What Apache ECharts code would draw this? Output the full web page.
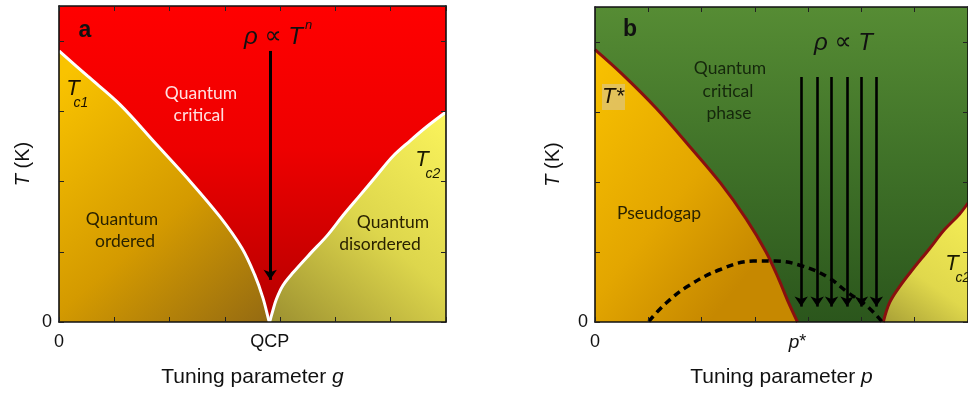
<!DOCTYPE html>
<html>
<head>
<meta charset="utf-8">
<script src="https://cdn.jsdelivr.net/npm/echarts@6/dist/echarts.min.js"></script>
<style>
html,body{margin:0;padding:0;background:#fff;}
#c{width:968px;height:393px;}
</style>
</head>
<body>
<div id="c"></div>
<script>
// ---------- Data ----------
// Panel a: phase boundaries (tuning parameter g vs T)
const tc1G = [0, 0.52, 1.10, 1.74, 2.33, 2.91, 3.31, 3.54, 3.69, 3.80, 3.81];
const tc1T = [3.86, 3.50, 3.10, 2.55, 2.04, 1.50, 1.05, 0.67, 0.34, 0.01, 0];
const tc2G = [3.81, 3.86, 3.93, 4.05, 4.23, 4.54, 4.85, 5.14, 5.44, 5.75, 6.04, 6.35, 6.65, 7.0];
const tc2T = [0, 0.14, 0.32, 0.52, 0.70, 0.97, 1.23, 1.52, 1.80, 2.09, 2.36, 2.58, 2.78, 2.99];
const qcpG = 3.81;
const arrowAG = [3.82];
const arrowATop = 3.86;
const arrowAEnd = 0.6;

// Panel b: pseudogap T*, superconducting dome, Tc2 (tuning parameter p vs T)
const tStarP = [0, 0.51, 1.14, 1.74, 2.35, 2.84, 3.21, 3.45, 3.63, 3.80];
const tStarT = [3.89, 3.54, 3.06, 2.54, 1.99, 1.47, 1.0, 0.61, 0.28, 0];
const tcBP = [5.41, 5.53, 5.72, 5.96, 6.27, 6.56, 6.84, 7.0];
const tcBT = [0, 0.28, 0.51, 0.75, 1.04, 1.32, 1.54, 1.70];
const domeP = [1.01, 1.32, 1.74, 2.35, 2.97, 3.39, 3.89, 4.37, 4.73, 5.10, 5.38];
const domeT = [0.01, 0.26, 0.51, 0.75, 0.87, 0.87, 0.80, 0.64, 0.43, 0.23, 0.01];
const pStar = 3.80;
const arrowsBP = [3.87, 4.17, 4.44, 4.73, 5.0, 5.28];
const arrowBTop = 3.5;
const arrowBEnd = 0.22;

// axis ranges / ticks
const xMin = 0, xMax = 7, xInterval = 1;
const yMin = 0, yMax = 4.5, yInterval = 1;

// ---------- Helpers ----------
const zip = (a, b) => a.map((v, i) => [v, b[i]]);
const AX = 'Liberation Sans, Arial, sans-serif';
const LB = 'Lato, Open Sans, sans-serif';
const lin = (x, y, x2, y2, stops) => ({type: 'linear', x, y, x2, y2, colorStops: stops.map(s => ({offset: s[0], color: s[1]}))});

function frameAxes(grid, kind, labelVals, labelMap, name, nameGap) {
  const base = {
    gridIndex: grid, type: 'value', min: kind === 'x' ? xMin : yMin, max: kind === 'x' ? xMax : yMax,
    interval: kind === 'x' ? xInterval : yInterval, z: 10,
    axisLine: {show: true, onZero: false, lineStyle: {color: '#111', width: 1.6}},
    axisTick: {show: true, inside: true, length: 5, lineStyle: {color: '#222', width: 1}},
    splitLine: {show: false}
  };
  const main = Object.assign({}, base, {
    position: kind === 'x' ? 'bottom' : 'left',
    axisLabel: {
      show: true, customValues: labelVals, formatter: v => labelMap(v),
      margin: kind === 'x' ? 11 : 7, color: '#111', fontFamily: AX, fontSize: 18,
      rich: {i: {fontStyle: 'italic', fontFamily: AX, fontSize: 19, color: '#111'}}
    },
    name: name, nameLocation: 'middle', nameGap: nameGap,
    nameTextStyle: {color: '#111', fontFamily: AX, fontSize: kind === 'x' ? 21 : 20,
      rich: {i: {fontStyle: 'italic', fontFamily: AX, fontSize: kind === 'x' ? 21 : 20, color: '#111'}}}
  });
  const opp = Object.assign({}, base, {position: kind === 'x' ? 'top' : 'right', axisLabel: {show: false}});
  return [main, opp];
}

const xAxes = [
  ...frameAxes(0, 'x', [0, qcpG], v => v === 0 ? '0' : 'QCP', 'Tuning parameter {i|g}', 45),
  ...frameAxes(1, 'x', [0, pStar], v => v === 0 ? '0' : '{i|p}*', 'Tuning parameter {i|p}', 45)
];
const yAxes = [
  ...frameAxes(0, 'y', [0], () => '0', '{i|T} (K)', 26),
  ...frameAxes(1, 'y', [0], () => '0', '{i|T} (K)', 32)
];

function areaLine(xi, yi, data, lineColor, fill) {
  return {type: 'line', xAxisIndex: xi, yAxisIndex: yi, data, showSymbol: false, symbol: 'none',
    smooth: 0.35,
    lineStyle: {color: lineColor, width: 3}, areaStyle: {color: fill, opacity: 1}, silent: true, z: 2};
}
function arrows(xi, yi, xs, top, end, width, size) {
  return {type: 'line', xAxisIndex: xi, yAxisIndex: yi, data: [], silent: true, z: 5,
    markLine: {silent: true, animation: false, symbol: ['none', 'arrow'], symbolSize: size, label: {show: false},
      lineStyle: {color: '#000', width: width, type: 'solid'},
      data: xs.map(x => [{coord: [x, top]}, {coord: [x, end]}])}};
}

const series = [
  areaLine(0, 0, zip(tc1G, tc1T), '#fff', lin(0, 0.1, 1, 1, [[0, '#f9c300'], [0.55, '#d49a00'], [1, '#946a12']])),
  areaLine(0, 0, zip(tc2G, tc2T), '#fff', lin(1, 0, 0, 1, [[0, '#fbf45c'], [0.5, '#ddd64c'], [1, '#9c9030']])),
  arrows(0, 0, arrowAG, arrowATop, arrowAEnd, 3, 10),
  areaLine(2, 2, zip(tStarP, tStarT), '#8a0f0f', lin(0, 0, 1, 0.6, [[0, '#f9c200'], [0.6, '#e3a600'], [1, '#c68800']])),
  areaLine(2, 2, zip(tcBP, tcBT), '#8a0f0f', lin(1, 0, 0, 1, [[0, '#f6ee56'], [0.6, '#e0d84c'], [1, '#a8a036']])),
  {type: 'line', xAxisIndex: 2, yAxisIndex: 2, data: zip(domeP, domeT), showSymbol: false, symbol: 'none',
    smooth: 0.4,
    lineStyle: {color: '#000', width: 3.5, type: [7, 5]}, silent: true, z: 4},
  arrows(2, 2, arrowsBP, arrowBTop, arrowBEnd, 2.6, 10)
];

const txt = (text, x, y, font, fill, align, rich) => ({type: 'text', z: 100, silent: true,
  style: {text, x, y, font, fill, rich, textAlign: align || 'center', textVerticalAlign: 'middle', align: align || 'center', verticalAlign: 'middle'}});

const rhoRich = {
  i: {fontStyle: 'italic', fontFamily: AX, fontSize: 24, fill: '#111', color: '#111'},
  s: {fontFamily: 'DejaVu Sans, sans-serif', fontSize: 24, fill: '#111', color: '#111'}
};

const dark = '#2a2200';
const darkG = '#15270c';
const graphic = [
  txt('a', 85, 31, 'bold 23px ' + AX, '#111'),
  txt('{i|ρ} {s|∝} {i|T}', 303, 37, '24px ' + AX, '#111', 'right', rhoRich),
  txt('n', 305, 25, 'italic 13px ' + AX, '#111', 'left'),
  txt('Quantum', 201, 93, '17.5px ' + LB, '#ffe0e0'),
  txt('critical', 199, 115, '17.5px ' + LB, '#ffe0e0'),
  txt('T', 73, 89, 'italic 22px ' + AX, '#1a1000'),
  txt('c1', 81, 103, 'italic 14px ' + AX, '#1a1000'),
  txt('Quantum', 122, 219, '17.5px ' + LB, dark),
  txt('ordered', 125, 241, '17.5px ' + LB, dark),
  txt('T', 422, 160, 'italic 22px ' + AX, '#1a1a00'),
  txt('c2', 433, 174, 'italic 14px ' + AX, '#1a1a00'),
  txt('Quantum', 393, 222, '17.5px ' + LB, dark),
  txt('disordered', 380, 244, '17.5px ' + LB, dark),

  txt('b', 630, 30, 'bold 23px ' + AX, '#111'),
  txt('{i|ρ} {s|∝} {i|T}', 873, 43, '24px ' + AX, '#111', 'right', rhoRich),
  txt('Quantum', 730, 68, '17.5px ' + LB, darkG),
  txt('critical', 728, 91, '17.5px ' + LB, darkG),
  txt('phase', 729, 113, '17.5px ' + LB, darkG),
  {type: 'rect', z: 99, silent: true, shape: {x: 602, y: 84, width: 23, height: 26}, style: {fill: 'rgba(222,196,120,0.75)'}},
  txt('T*', 613, 97, 'italic 22px ' + AX, '#1a1000'),
  txt('Pseudogap', 659, 213, '17.5px ' + LB, dark),
  txt('T', 952, 264, 'italic 22px ' + AX, '#1a1a00'),
  txt('c2', 963, 278, 'italic 14px ' + AX, '#1a1a00')
];

const chart = echarts.init(document.getElementById('c'), null, {renderer: 'canvas'});
chart.setOption({
  animation: false,
  backgroundColor: '#ffffff',
  grid: [
    {left: 59, top: 6, width: 387, height: 318, show: true, borderWidth: 0,
      backgroundColor: lin(0, 0, 0, 1, [[0, '#ff0000'], [0.45, '#ee0000'], [1, '#b40000']])},
    {left: 595, top: 7, width: 382, height: 316, show: true, borderWidth: 0,
      backgroundColor: lin(0, 0, 0, 1, [[0, '#568c34'], [0.5, '#3f7128'], [1, '#2b561c']])}
  ],
  xAxis: xAxes,
  yAxis: yAxes,
  series,
  graphic
});
</script>
</body>
</html>
